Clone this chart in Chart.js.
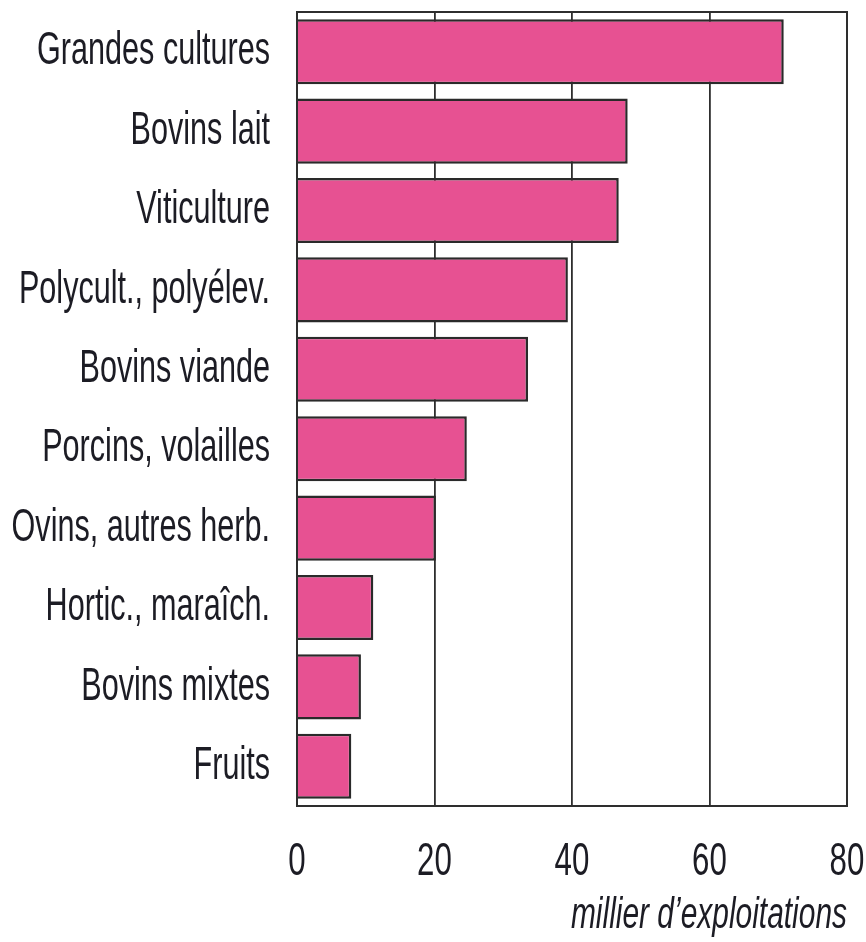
<!DOCTYPE html>
<html><head><meta charset="utf-8">
<script src="https://cdn.jsdelivr.net/npm/chart.js@4/dist/chart.umd.min.js"></script>
<style>html,body{margin:0;padding:0;background:#fff}</style>
</head><body>
<canvas id="c" width="866" height="942"></canvas>
<script>
const categories = ["Grandes cultures","Bovins lait","Viticulture","Polycult., polyélev.","Bovins viande","Porcins, volailles","Ovins, autres herb.","Hortic., maraîch.","Bovins mixtes","Fruits"];
const values = [70.8, 48.1, 46.8, 39.4, 33.6, 24.7, 20.2, 11.1, 9.3, 7.9];
const xTicks = [0, 20, 40, 60, 80];
const axisTitle = "millier d\u2019exploitations";

const FONT = "'Liberation Sans', Arial, sans-serif";
const K = 0.665; // horizontal condensing of the text

const canvas = document.getElementById('c');
const ctx0 = canvas.getContext('2d');
const origFill = ctx0.fillText;
ctx0.fillText = function (t, x, y, mw) {
  this.save();
  this.scale(K, 1);
  if (mw === undefined || mw === null) origFill.call(this, t, x / K, y);
  else origFill.call(this, t, x / K, y, mw / K);
  this.restore();
};

const frame = {
  id: 'frame',
  afterDatasetsDraw(chart) {
    const a = chart.chartArea, ctx = chart.ctx;
    ctx.save();
    ctx.strokeStyle = '#2e2e2e';
    ctx.lineWidth = 2;
    ctx.strokeRect(a.left, a.top, a.right - a.left, a.bottom - a.top);
    ctx.restore();
  }
};

new Chart(canvas, {
  type: 'bar',
  data: {
    labels: categories,
    datasets: [{
      data: values,
      backgroundColor: '#e75192',
      borderColor: '#2a2a2a',
      borderWidth: 2.5,
      barPercentage: 0.82,
      categoryPercentage: 1
    }]
  },
  options: {
    indexAxis: 'y',
    responsive: false,
    animation: false,
    layout: { padding: { left: 0, right: 19, top: 12, bottom: 0 } },
    plugins: { legend: { display: false }, tooltip: { enabled: false } },
    scales: {
      x: {
        min: 0, max: 80,
        afterBuildTicks(s) { s.ticks = xTicks.map(v => ({ value: v })); },
        afterFit(s) { s.height = 136; s.paddingLeft = 0; s.paddingRight = 0; },
        grid: { color: '#2e2e2e', lineWidth: 1.8, drawTicks: false },
        border: { display: true, color: '#2e2e2e', width: 2 },
        ticks: { color: '#1c1c24', font: { family: FONT, size: 47 }, padding: 28, maxRotation: 0, autoSkip: false },
        title: { display: true, text: axisTitle, align: 'end', color: '#1c1c24',
                 font: { family: FONT, size: 45, style: 'italic' }, padding: { top: 0, bottom: 0 } }
      },
      y: {
        afterFit(s) { s.width = 297; s.paddingTop = 0; s.paddingBottom = 0; },
        grid: { display: false, drawTicks: false },
        border: { display: true, color: '#2e2e2e', width: 2 },
        ticks: { color: '#1c1c24', font: { family: FONT, size: 46 }, padding: 27, autoSkip: false }
      }
    }
  },
  plugins: [frame]
});
</script>
</body></html>
